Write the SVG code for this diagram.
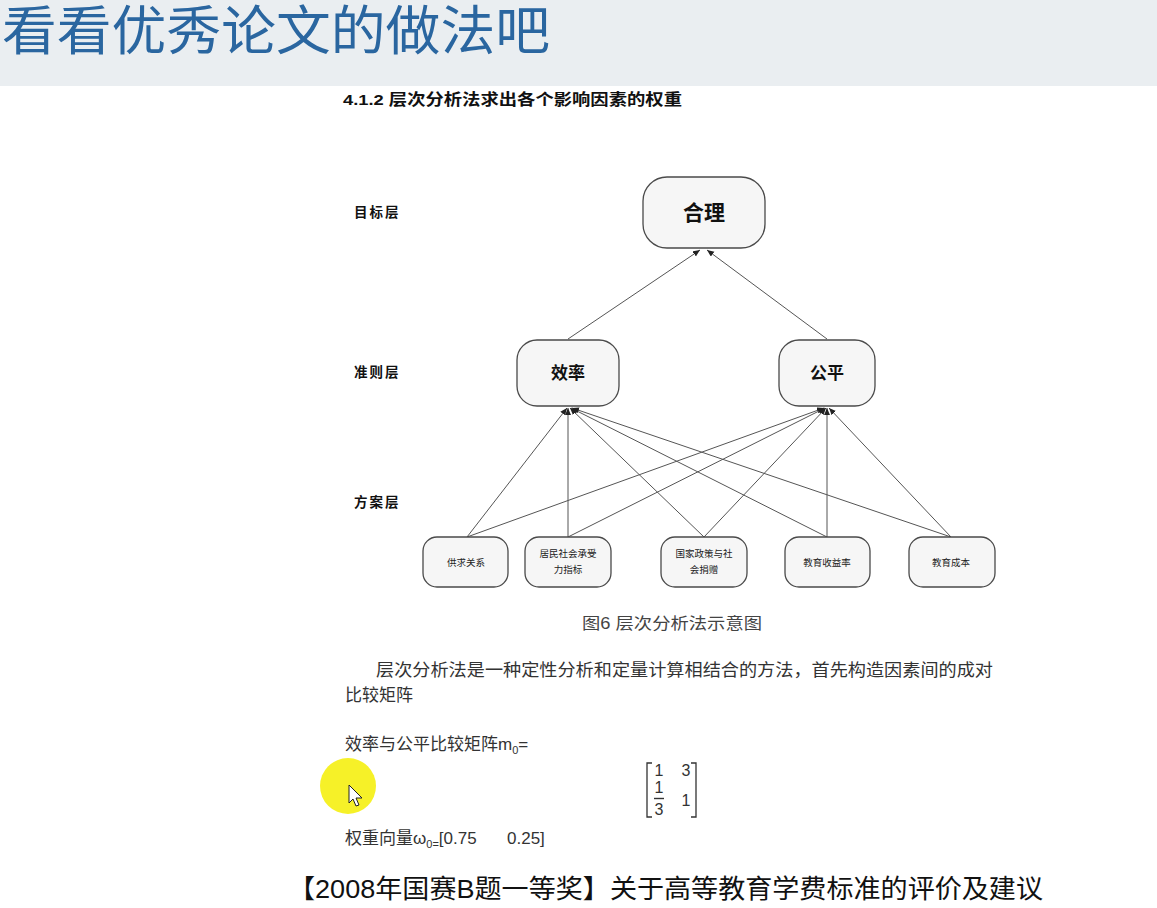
<svg xmlns="http://www.w3.org/2000/svg" width="1157" height="908" viewBox="0 0 1157 908">
<defs>
<style>
.cjk{font-family:"Liberation Sans","Noto Sans CJK SC",sans-serif;}
.box{fill:#f6f6f6;stroke:#4a4a4a;stroke-width:1.3;}
.edge{stroke:#555;stroke-width:1;fill:none;marker-end:url(#arr);}
.lay{font-size:13.5px;font-weight:bold;fill:#111;letter-spacing:2px;}
.small{font-size:9.5px;fill:#222;text-anchor:middle;}
.body{font-size:17px;fill:#333;}
</style>
<marker id="arr" markerWidth="8" markerHeight="8" refX="7" refY="3" orient="auto" markerUnits="userSpaceOnUse">
<path d="M0,0 L7,3 L0,6 Z" fill="#222"/>
</marker>
</defs>
<rect x="0" y="0" width="1157" height="908" fill="#ffffff"/>
<rect x="0" y="0" width="1157" height="86" fill="#eaeef1"/>
<text class="cjk" x="2" y="50" font-size="53" font-weight="normal" fill="#2a66a0" textLength="548" lengthAdjust="spacingAndGlyphs">看看优秀论文的做法吧</text>
<text class="cjk" x="343" y="105" font-size="15.5" font-weight="bold" fill="#111" textLength="339" lengthAdjust="spacingAndGlyphs">4.1.2  层次分析法求出各个影响因素的权重</text>

<g class="cjk">
<text class="lay" x="354" y="217">目标层</text>
<text class="lay" x="354" y="377">准则层</text>
<text class="lay" x="354" y="507">方案层</text>
</g>

<g id="connectors">
<line class="edge" x1="568" y1="339" x2="700" y2="250"/>
<line class="edge" x1="827" y1="339" x2="707" y2="250"/>
<line class="edge" x1="467" y1="537" x2="567" y2="408"/>
<line class="edge" x1="467" y1="537" x2="824" y2="408"/>
<line class="edge" x1="568" y1="537" x2="568" y2="408"/>
<line class="edge" x1="568" y1="537" x2="825" y2="408"/>
<line class="edge" x1="704" y1="537" x2="570" y2="408"/>
<line class="edge" x1="704" y1="537" x2="826" y2="408"/>
<line class="edge" x1="827" y1="537" x2="571" y2="408"/>
<line class="edge" x1="827" y1="537" x2="827" y2="408"/>
<line class="edge" x1="951" y1="537" x2="572" y2="408"/>
<line class="edge" x1="951" y1="537" x2="829" y2="408"/>
</g>

<g id="node-heli" class="cjk">
<rect class="box" x="643" y="177" width="122" height="71" rx="24"/>
<text x="704" y="220" font-size="21" font-weight="bold" text-anchor="middle" fill="#111">合理</text>
</g>
<g id="node-xiaolv" class="cjk">
<rect class="box" x="517" y="340" width="102" height="66" rx="20"/>
<text x="568" y="379" font-size="17" font-weight="bold" text-anchor="middle" fill="#111">效率</text>
</g>
<g id="node-gongping" class="cjk">
<rect class="box" x="779" y="340" width="96" height="66" rx="20"/>
<text x="827" y="379" font-size="17" font-weight="bold" text-anchor="middle" fill="#111">公平</text>
</g>
<g id="node-gongqiu" class="cjk">
<rect class="box" x="423" y="537" width="85" height="50" rx="14"/>
<text class="small" x="466" y="566">供求关系</text>
</g>
<g id="node-jumin" class="cjk">
<rect class="box" x="525" y="537" width="86" height="50" rx="14"/>
<text class="small" x="568" y="557">居民社会承受</text>
<text class="small" x="568" y="573">力指标</text>
</g>
<g id="node-guojia" class="cjk">
<rect class="box" x="661" y="537" width="86" height="50" rx="14"/>
<text class="small" x="704" y="557">国家政策与社</text>
<text class="small" x="704" y="573">会捐赠</text>
</g>
<g id="node-shouyi" class="cjk">
<rect class="box" x="785" y="537" width="85" height="50" rx="14"/>
<text class="small" x="827" y="566">教育收益率</text>
</g>
<g id="node-chengben" class="cjk">
<rect class="box" x="909" y="537" width="86" height="50" rx="14"/>
<text class="small" x="951" y="566">教育成本</text>
</g>

<g class="cjk">
<text x="582" y="629" font-size="16" fill="#444" textLength="180" lengthAdjust="spacingAndGlyphs">图6 层次分析法示意图</text>
<text class="body" x="376" y="676" textLength="617" lengthAdjust="spacingAndGlyphs">层次分析法是一种定性分析和定量计算相结合的方法，首先构造因素间的成对</text>
<text class="body" x="345" y="701">比较矩阵</text>
<text class="body" x="345" y="750">效率与公平比较矩阵m<tspan font-size="11" dy="4">0</tspan><tspan dy="-4">=</tspan></text>
<text class="body" x="345" y="844">权重向量ω<tspan font-size="11" dy="4">0=</tspan><tspan dy="-4">[0.75</tspan><tspan x="507">0.25]</tspan></text>
</g>

<g id="matrix" font-family="Liberation Sans, sans-serif" font-size="16" fill="#333">
<path d="M652,763 H647 V817 H652" fill="none" stroke="#333" stroke-width="1.3"/>
<path d="M691,763 H696 V817 H691" fill="none" stroke="#333" stroke-width="1.3"/>
<text x="659" y="776" text-anchor="middle">1</text>
<text x="686" y="776" text-anchor="middle">3</text>
<text x="659" y="793" text-anchor="middle">1</text>
<line x1="654" y1="798.5" x2="664" y2="798.5" stroke="#333" stroke-width="1.4"/>
<text x="659" y="815" text-anchor="middle">3</text>
<text x="686" y="806" text-anchor="middle">1</text>
</g>

<text class="cjk" x="288" y="898" font-size="26" fill="#111" textLength="755" lengthAdjust="spacingAndGlyphs">【2008年国赛B题一等奖】关于高等教育学费标准的评价及建议</text>

<circle cx="348" cy="786" r="28" fill="#f6f01c" opacity="0.95"/>
<path d="M349,785 L349,803 L353,799 L356,806 L359,805 L356,798 L362,798 Z" fill="#fff" stroke="#222" stroke-width="1"/>
</svg>
